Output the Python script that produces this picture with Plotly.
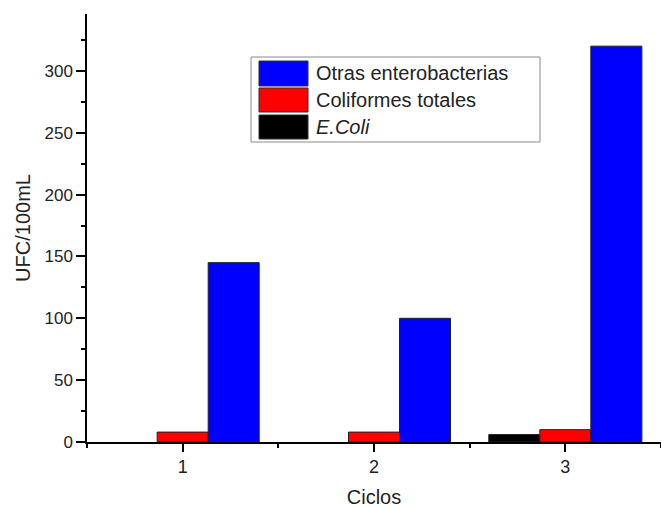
import plotly.graph_objects as go

# ---- data ----
ciclos = [1, 2, 3]
series_names = ["<i>E.Coli</i>", "Coliformes totales", "Otras enterobacterias"]
ecoli = [0, 0, 6]
coliformes = [8, 8, 10]
otras = [145, 100, 320]
colors = ["#000000", "#FF0000", "#0000FF"]
y_ticks = [0, 50, 100, 150, 200, 250, 300]

W, H = 661, 508
L, R, T, B = 87, 0, 14, 66
PW, PH = W - L - R, H - T - B

FONT = "Liberation Sans, Arial, sans-serif"
TXT = "#222222"

fig = go.Figure()
for name, vals, col in zip(series_names, [ecoli, coliformes, otras], colors):
    fig.add_trace(go.Bar(x=ciclos, y=vals, name=name, marker_color=col,
                         marker_line=dict(color="#202020",
                                          width=[0 if v == 0 else 1 for v in vals]),
                         showlegend=False))

def px(x):
    return (x - L) / PW

def py(y):
    return (H - B - y) / PH

shapes = []
annotations = []
# legend box
shapes.append(dict(type="rect", xref="paper", yref="paper",
                   x0=px(251), x1=px(540), y0=py(142), y1=py(57),
                   line=dict(color="#8a8a8a", width=1), fillcolor="white", layer="above"))
rows = [(61, 86), (88, 112), (115, 139)]
legend_order = [2, 1, 0]
for (ya, yb), idx in zip(rows, legend_order):
    shapes.append(dict(type="rect", xref="paper", yref="paper",
                       x0=px(259), x1=px(308), y0=py(yb), y1=py(ya),
                       line=dict(color="#303030", width=1), fillcolor=colors[idx], layer="above"))
    annotations.append(dict(xref="paper", yref="paper", x=px(314), y=py((ya + yb) / 2),
                            text=series_names[idx], showarrow=False, xanchor="left",
                            yanchor="middle", font=dict(family=FONT, size=20, color=TXT)))

fig.update_layout(
    width=W, height=H,
    margin=dict(l=L, r=R, t=T, b=B),
    paper_bgcolor="white", plot_bgcolor="white",
    barmode="group", bargap=0.2, bargroupgap=0,
    font=dict(family=FONT, color=TXT),
    shapes=shapes, annotations=annotations,
    xaxis=dict(range=[0.5, 3.5], tickmode="array", tickvals=ciclos,
               ticktext=[str(c) for c in ciclos],
               showline=True, linecolor="black", linewidth=1.5,
               ticks="outside", ticklen=8, tickwidth=1.5, tickcolor="black",
               minor=dict(ticks="outside", ticklen=4, tickwidth=1.5, tickcolor="black",
                          tickmode="array", tickvals=[0.5, 1.5, 2.5, 3.5]),
               showgrid=False, zeroline=False,
               tickfont=dict(size=18, family=FONT, color=TXT),
               title=dict(text="Ciclos", font=dict(size=20, family=FONT, color=TXT),
                          standoff=16)),
    yaxis=dict(range=[0, 346], tickmode="array", tickvals=y_ticks,
               showline=True, linecolor="black", linewidth=1.5,
               ticks="outside", ticklen=9, tickwidth=1.5, tickcolor="black",
               minor=dict(ticks="outside", ticklen=4, tickwidth=1.5, tickcolor="black",
                          dtick=25, tick0=0),
               showgrid=False, zeroline=False,
               tickfont=dict(size=17, family=FONT, color=TXT),
               title=dict(text="UFC/100mL", font=dict(size=20, family=FONT, color=TXT),
                          standoff=8)),
)

fig.write_html("out.html")
